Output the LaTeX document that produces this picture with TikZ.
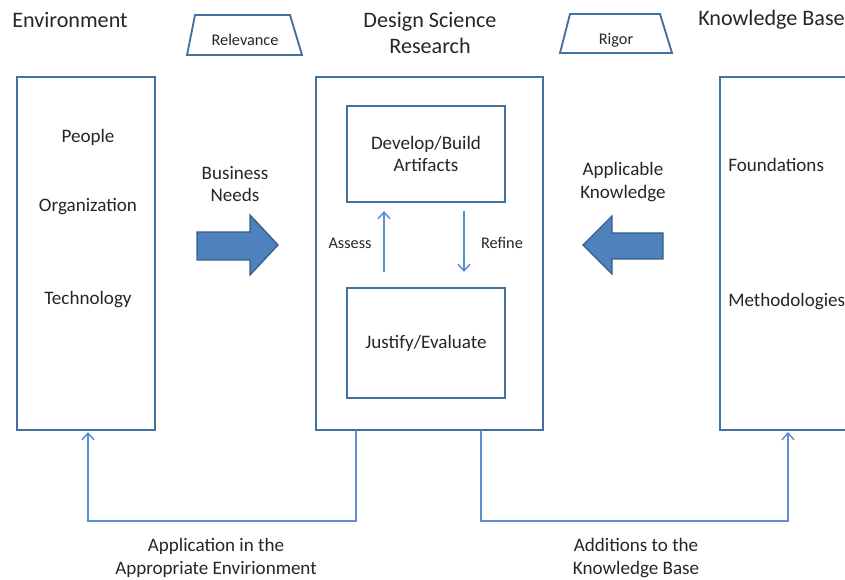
\documentclass[tikz,border=0pt]{standalone}
\usepackage{fontspec}
\setmainfont{Carlito}
\usetikzlibrary{arrows.meta,shapes.arrows}
\definecolor{boxline}{HTML}{41719C}
\definecolor{linkline}{HTML}{5B8FCF}
\definecolor{arrowfill}{HTML}{4F81BD}
\definecolor{arrowline}{HTML}{385D8A}
\definecolor{ink}{HTML}{262626}
\tikzset{
  frame/.style={draw=boxline, line width=1.6pt, fill=white},
  headtext/.style={text=ink, font=\fontsize{16.6}{19.5}\selectfont, align=center, inner sep=0pt},
  bodytext/.style={text=ink, font=\fontsize{14.3}{17}\selectfont, align=center, inner sep=0pt},
  smalltext/.style={text=ink, font=\fontsize{12.2}{14.5}\selectfont, inner sep=0pt},
  link/.style={draw=linkline, line width=1.1pt, -{Straight Barb[length=5pt,width=9pt,line width=1.1pt]}},
  bigarrow/.style={fill=arrowfill, draw=arrowline, line width=1pt, line join=miter},
}
\begin{document}
\begin{tikzpicture}[x=0.75pt, y=-0.75pt]
\useasboundingbox (0,0) rectangle (845,580);

% headings
\node[headtext, anchor=west] (envhead) at (12,20) {Environment};
\node[headtext] (dsrhead) at (430,33) {Design Science\\Research};
\node[headtext, anchor=west] (kbhead) at (698,20) {Knowledge Base};

% relevance and rigor trapezoids
\draw[frame, line width=1.4pt] (195,15) -- (290,15) -- (302,55) -- (187,55) -- cycle;
\node[smalltext] (relevance) at (245,40) {Relevance};
\draw[frame, line width=1.4pt] (570,14) -- (660,14) -- (672,53) -- (560,53) -- cycle;
\node[smalltext] (rigor) at (616,40) {Rigor};

% environment box
\draw[frame] (17,77) rectangle (155,430);
\coordinate (envbottom) at (88,430);
\node[bodytext] (people) at (88,137) {People};
\node[bodytext] (org) at (88,207) {Organization};
\node[bodytext] (tech) at (88,300) {Technology};

% design science research box
\draw[frame] (316,77) rectangle (543,430);
\node[frame, minimum width=158*0.75pt, minimum height=96*0.75pt, bodytext, draw=boxline] (build) at (426,154) {Develop/Build\\Artifacts};
\node[frame, minimum width=158*0.75pt, minimum height=110*0.75pt, bodytext, draw=boxline] (eval) at (426,343) {Justify/Evaluate};
\coordinate (dsrleft) at (356,430);
\coordinate (dsrright) at (481,430);

% knowledge base box (runs off the right edge)
\begin{scope}
\clip (0,0) rectangle (845,580);
\draw[frame] (870,77) -- (720,77) -- (720,430) -- (870,430);
\end{scope}
\coordinate (kbbottom) at (788,430);
\node[bodytext, anchor=west] (found) at (728,165) {Foundations};
\node[bodytext, anchor=west] (meth) at (728,302) {Methodologies};

% assess / refine loop
\coordinate (assessfrom) at (384,272);
\coordinate (assessto) at (384,211);
\coordinate (refinefrom) at (464,211);
\coordinate (refineto) at (464,272);
\draw[link] (assessfrom) -- (assessto);
\draw[link] (refinefrom) -- (refineto);
\node[smalltext] (assess) at (350,243) {Assess};
\node[smalltext] (refine) at (502,243) {Refine};

% business needs and applicable knowledge arrows
\node[bodytext] (needs) at (235,184) {Business\\Needs};
\draw[bigarrow] (197,232) -- (250,232) -- (250,215) -- (278,245) -- (250,275) -- (250,260) -- (197,260) -- cycle;
\node[bodytext] (applicable) at (623,182) {Applicable\\Knowledge};
\draw[bigarrow] (663,233) -- (612,233) -- (612,216) -- (583,245) -- (612,274) -- (612,259) -- (663,259) -- cycle;

% feedback connectors along the bottom
\draw[link] (dsrleft) |- (88,521) -- ([yshift=-1.5pt]envbottom);
\draw[link] (dsrright) |- (788,521) -- ([yshift=-1.5pt]kbbottom);
\node[bodytext] (application) at (216,558) {Application in the\\Appropriate Envirionment};
\node[bodytext] (additions) at (636,558) {Additions to the\\Knowledge Base};
\end{tikzpicture}
\end{document}
